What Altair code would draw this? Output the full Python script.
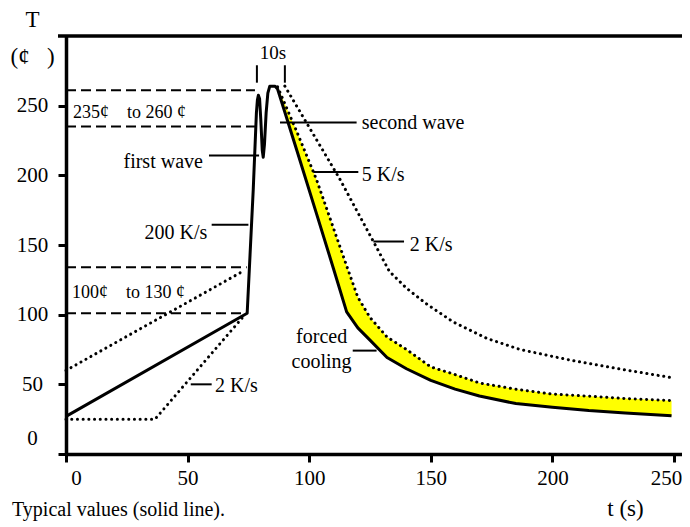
import altair as alt
import pandas as pd

FONT = "Liberation Serif, Times New Roman, Times, serif"
NB = "\u00a0"

# ---- typical profile (solid line): heating + two waves ----
solid_t = [0, 74.5, 77, 78.3, 78.7, 79.1, 79.6, 80.1, 80.7, 81.1, 81.6, 82.3, 83, 83.8, 86]
solid_T = [27, 101, 190, 245, 254, 257.5, 255, 240, 218, 213, 222, 245, 259, 264, 264]

# ---- cooling: solid (lower edge of yellow band) and 5 K/s dotted (upper edge) ----
cool_t = [87, 95, 103, 110, 115.4, 120, 125, 132, 140, 150, 160, 170, 185, 200, 215, 230, 249]
cool_lo = [262, 217.5, 172.5, 133, 102, 90.5, 81.7, 69.3, 61.2, 52.8, 46.6, 41.6, 36.2, 33.6, 31.2, 29.5, 27.4]
cool_hi = [263.5, 231, 197, 162, 135, 112.5, 98, 84, 75, 62.5, 57, 51, 46.5, 43, 41.5, 39.8, 38.3]

# ---- slow cooling 2 K/s (dotted) ----
slow_t = [90, 112.7, 126.4, 133, 140, 148, 159, 173, 186.7, 207, 227.8, 248.4]
slow_T = [264, 197, 152.5, 131, 119, 108, 95, 83, 75, 67.5, 61, 55]

# ---- heating variants (dotted) ----
hot_t = [0, 73.6]
hot_T = [60, 132]
cold_t = [0, 36.6, 73.6]
cold_T = [25, 25, 100]

# ---- dashed limit lines (t0, t1, T) ----
dash_t0 = [0, 0, 0, 0]
dash_t1 = [74.3, 74.3, 77.7, 77.7]
dash_T = [101, 134, 261, 235]

# ---- pointer lines (t0, t1, T) ----
ptr_t0 = [58.8, 59.9, 88, 101.7, 126.4, 117.9, 51.3]
ptr_t1 = [79.4, 75, 119.5, 120.2, 139, 127.7, 59.9]
ptr_T = [214.3, 164.5, 238, 202.4, 152.5, 74.2, 50]

# ---- 10 s markers ----
mark_t = [78.5, 90]
mark_T0 = [266.5, 266.5]
mark_T1 = [279, 279]

# ---- annotation texts ----
lbl_text = ["first wave", "200 K/s", "second wave", "5 K/s", "2 K/s", "2 K/s",
            "forced", "cooling", "10s"]
lbl_t = [56.3, 58.1, 121.6, 121.6, 141.4, 61.3, 105.1, 105.1, 85.1]
lbl_T = [209.8, 158.5, 237.4, 200.4, 150.1, 49, 84.3, 66, 288]
lbl_align = ["right", "right", "left", "left", "left", "left", "center", "center", "center"]
lbl_size = [20, 20, 20, 20, 20, 20, 20, 20, 19]

rng_text = ["235¢" + NB * 4 + "to 260" + NB + "¢", "100¢" + NB * 4 + "to 130" + NB + "¢"]
rng_t = [2.9, 2.5]
rng_T = [245, 115.7]

x_ticks = [0, 50, 100, 150, 200, 250]
y_ticks = [0, 50, 100, 150, 200, 250]

W, H = 616, 418
xs = alt.Scale(domain=[0, 253.3], nice=False, zero=False)
ys = alt.Scale(domain=[0, 300], nice=False, zero=False)

x_axis = alt.Axis(
    values=x_ticks, title="t (s)", titleX=559, titleY=61, titleAlign="center",
    titleBaseline="alphabetic", titleFont=FONT, titleFontSize=23, titleFontWeight="normal",
    titleColor="black", labelFont=FONT, labelFontSize=21, labelColor="black",
    labelPadding=5, tickSize=8, tickWidth=3, tickColor="black", domainColor="black",
    domainWidth=3.5, grid=False, labelFlush=False, labelOverlap=False,
    labelOffset={"condition": [{"test": "datum.value === 0", "value": 10},
                               {"test": "datum.value === 250", "value": -8}], "value": 0},
)
y_axis = alt.Axis(
    values=y_ticks, title=["T", "(¢" + NB * 3 + ")"], titleAngle=0, titleAlign="center",
    titleBaseline="alphabetic", titleX=-34, titleY=-10, titleLineHeight=37,
    titleFont=FONT, titleFontSize=23, titleFontWeight="normal", titleColor="black",
    labelFont=FONT, labelFontSize=21, labelColor="black", labelAlign="center",
    labelPadding=26, tickSize=8, tickWidth=3, tickColor="black", domainColor="black",
    domainWidth=3.5, grid=False, labelFlush=False, labelOverlap=False,
    labelOffset={"condition": {"test": "datum.value === 0", "value": -16}, "value": 0},
)


def X(f):
    return alt.X(f, type="quantitative", scale=xs, axis=x_axis)


def Y(f):
    return alt.Y(f, type="quantitative", scale=ys, axis=y_axis)


band = pd.DataFrame({"t": cool_t, "lo": cool_lo, "hi": cool_hi})
solid = pd.DataFrame({"t": solid_t + cool_t, "T": solid_T + cool_lo})
dotted = pd.concat([
    pd.DataFrame({"t": cool_t, "T": cool_hi, "s": "c5"}),
    pd.DataFrame({"t": slow_t, "T": slow_T, "s": "c2"}),
    pd.DataFrame({"t": hot_t, "T": hot_T, "s": "h1"}),
    pd.DataFrame({"t": cold_t, "T": cold_T, "s": "h2"}),
])
dashes = pd.DataFrame({"t0": dash_t0, "t1": dash_t1, "T": dash_T})
ptrs = pd.DataFrame({"t0": ptr_t0, "t1": ptr_t1, "T": ptr_T})
marks = pd.DataFrame({"t": mark_t, "T0": mark_T0, "T1": mark_T1})
lbls = pd.DataFrame({"txt": lbl_text, "t": lbl_t, "T": lbl_T, "al": lbl_align, "fs": lbl_size})
rngs = pd.DataFrame({"txt": rng_text, "t": rng_t, "T": rng_T})

area = alt.Chart(band).mark_area(color="#ffff00", opacity=1).encode(
    x=X("t"), y=Y("lo"), y2="hi")

dot = alt.Chart(dotted).mark_line(
    color="black", strokeWidth=3, strokeDash=[0.1, 5.6], strokeCap="round"
).encode(x=X("t"), y=Y("T"), detail="s:N", order="t:Q")

sol = alt.Chart(solid).mark_line(color="black", strokeWidth=3, strokeJoin="round").encode(
    x=X("t"), y=Y("T"), order="t:Q")

dsh = alt.Chart(dashes).mark_rule(color="black", strokeWidth=2, strokeDash=[10, 5]).encode(
    x=X("t0"), x2="t1", y=Y("T"))

ptr = alt.Chart(ptrs).mark_rule(color="black", strokeWidth=2).encode(
    x=X("t0"), x2="t1", y=Y("T"))

mk = alt.Chart(marks).mark_rule(color="black", strokeWidth=2).encode(
    x=X("t"), y=Y("T0"), y2="T1")

top = alt.Chart(pd.DataFrame({"T": [300]})).mark_rule(color="black", strokeWidth=3.5).encode(
    y=Y("T"), x=alt.value(-8), x2=alt.value(W))

txt_layers = []
for al in ["left", "right", "center"]:
    txt_layers.append(
        alt.Chart(lbls[lbls["al"] == al]).mark_text(
            font=FONT, color="black", align=al, baseline="middle"
        ).encode(x=X("t"), y=Y("T"), text="txt:N", size=alt.Size("fs:Q", scale=None, legend=None))
    )

rng = alt.Chart(rngs).mark_text(font=FONT, fontSize=18, color="black", align="left",
                                baseline="middle").encode(x=X("t"), y=Y("T"), text="txt:N")

caption = alt.Chart(pd.DataFrame({"c": ["Typical values (solid line)."]})).mark_text(
    font=FONT, fontSize=20, color="black", align="left", baseline="middle"
).encode(text="c:N", x=alt.value(-54), y=alt.value(474))

chart = alt.layer(area, dot, sol, dsh, ptr, mk, top, *txt_layers, rng, caption).properties(
    width=W, height=H,
    autosize=alt.AutoSizeParams(type="none"),
    padding={"left": 58, "top": 28, "right": 0, "bottom": 70},
).configure_view(stroke=None).configure(background="white")

chart.save("out.html", embed_options={"renderer": "svg", "actions": False})
